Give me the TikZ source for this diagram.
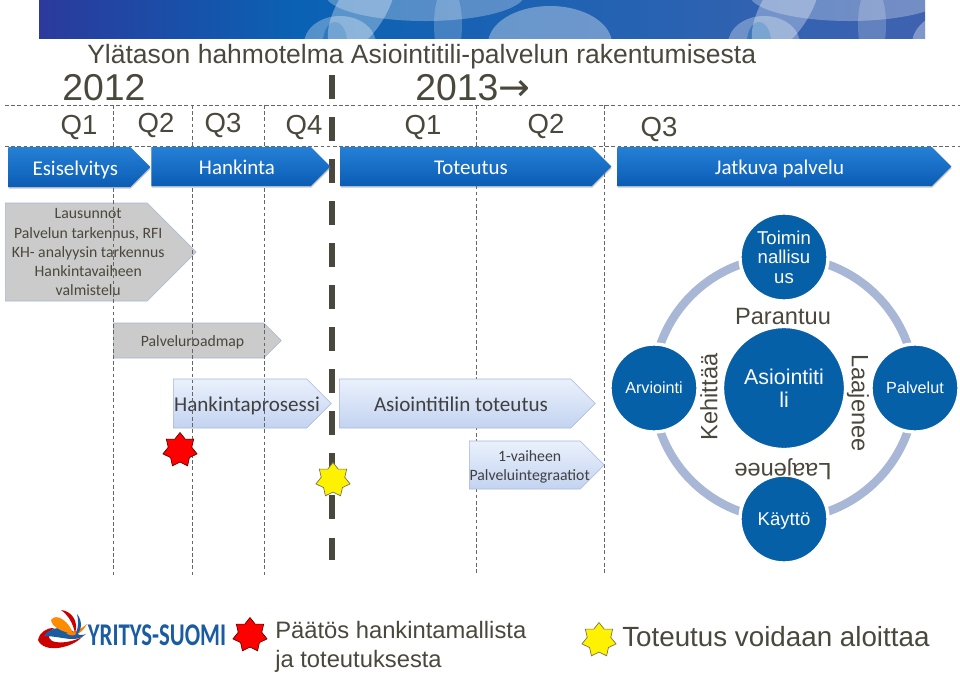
\documentclass[tikz,border=0pt]{standalone}
\usepackage{fontspec}
\setmainfont{Liberation Sans}
\newfontfamily\carlito{Carlito}
\newfontfamily\dejavu{DejaVu Sans}
\usetikzlibrary{shapes.geometric, shapes.symbols, shadows}
\definecolor{inktext}{HTML}{4A483C}
\definecolor{barblue}{HTML}{0B5CB4}
\definecolor{barlight}{HTML}{2580D6}
\definecolor{discblue}{HTML}{0560A8}
\definecolor{ringblue}{HTML}{A9B7D6}
\definecolor{greybox}{HTML}{CBCBCB}
\definecolor{paleedge}{HTML}{A8B8D8}
\definecolor{paletop}{HTML}{EAF1FC}
\definecolor{palebottom}{HTML}{C3D3F0}
\definecolor{logoblue}{HTML}{1A5CA2}
\definecolor{bannerleft}{HTML}{2B3A9C}
\definecolor{bannermid}{HTML}{0A62B4}
\definecolor{bannerright}{HTML}{3F62B0}
\tikzset{
    headline/.style = {text=inktext, inner sep=0pt, font=\fontsize{18.85}{22}\selectfont},
    yearlabel/.style = {text=inktext, inner sep=0pt, font=\fontsize{26.6}{30}\selectfont},
    quarter/.style = {text=inktext, inner sep=0pt, font=\fontsize{19.6}{24}\selectfont},
    phase/.style = {signal, signal to=east, anchor=west, inner sep=0pt, draw=none, top color=barlight, bottom color=barblue, text=white, text height=12pt, text depth=0pt, font=\carlito\fontsize{14.9}{17}\selectfont, drop shadow={shadow xshift=0.3pt, shadow yshift=-1.2pt, opacity=0.45}},
    greytask/.style = {signal, signal to=east, anchor=west, inner sep=0pt, fill=greybox, draw=paleedge, text=inktext, font=\carlito\fontsize{11.2}{13.6}\selectfont},
    paletask/.style = {signal, signal to=east, anchor=west, inner sep=0pt, top color=paletop, bottom color=palebottom, draw=paleedge, text=black!75, font=\carlito\fontsize{15}{18}\selectfont},
    oneline/.style = {text height=11pt, text depth=0pt},
    disc/.style = {circle, fill=discblue, draw=white, line width=2.4pt, inner sep=0pt, text=white, align=center},
    smalldisc/.style = {disc, minimum size=88\pxu, font=\fontsize{11.5}{13.8}\selectfont},
    ringlabel/.style = {text=inktext, inner sep=0pt, font=\fontsize{16.8}{18}\selectfont},
    gridline/.style = {dash pattern=on 2.6pt off 1.8pt, draw=black!60, line width=0.55pt},
    milestone/.style = {draw=inktext, line width=4.2pt, dash pattern=on 17pt off 12.9pt},
    burst/.style = {star, star points=7, star point ratio=1.45, minimum size=35\pxu, inner sep=0pt, draw=black!60!#1, fill=#1, line width=0.5pt},
    legendtext/.style = {text=inktext, inner sep=0pt, align=left, anchor=west}
}
\newcommand{\pxu}{*0.025cm}
\newcommand{\shifted}[2]{\hspace*{#1}\makebox[0pt]{#2}}
\newcommand{\lowered}[2]{\raisebox{-#1}[\height][\depth]{#2}}
\begin{document}
\begin{tikzpicture}[x=0.025cm, y=-0.025cm]
    \useasboundingbox (0,0) rectangle (960,673);

    % banner
    \begin{scope}
        \clip (39,0) rectangle (925,38);
        \shade [left color=bannerleft, right color=bannermid] (39,0) rectangle (300,38);
        \shade [left color=bannermid, right color=bannerright] (300,0) rectangle (925,38);
        \foreach \dx in {0, 424} {
            \fill [white, opacity=0.3] (340+\dx,44) ellipse (36 and 28);
            \fill [bannermid, opacity=0.5] (335+\dx,42) ellipse (12 and 20);
            \fill [white, opacity=0.32] (362+\dx,8) [rotate around={-32:(362+\dx,8)}] ellipse (24 and 52);
            \fill [white, opacity=0.28] (425+\dx,-6) ellipse (100 and 27);
            \fill [white, opacity=0.2] (448+\dx,25) ellipse (14 and 40);
            \fill [white, opacity=0.34] (550+\dx,44) ellipse (62 and 38);
        }
    \end{scope}

    \node (title) [headline, anchor=west] at (87,56.5) {Ylätason hahmotelma Asiointitili-palvelun rakentumisesta};
    \node (y2012) [yearlabel, anchor=west] at (62,88) {2012};
    \node (y2013) [yearlabel, anchor=west] at (415,88) {2013{\dejavu\fontsize{27}{30}\selectfont →}};

    \node (q1a) [quarter] at (79,127) {Q1};
    \node (q2a) [quarter] at (156,125) {Q2};
    \node (q3a) [quarter] at (223,125) {Q3};
    \node (q4a) [quarter] at (304,127) {Q4};
    \node (q1b) [quarter] at (423,127) {Q1};
    \node (q2b) [quarter] at (546,126) {Q2};
    \node (q3b) [quarter] at (659,129) {Q3};

    \draw [gridline] (5,105) -- (960,105);
    \draw [gridline] (5,146) -- (960,146);
    \foreach \gx in {476, 604}
        \draw [gridline] (\gx,105) -- (\gx,575);
    \draw [milestone] (332,75) -- (332,560);

    \node (esiselvitys) [phase, minimum width=142\pxu, minimum height=40\pxu] at (8,167) {\shifted{8.5pt}{Esiselvitys}};
    \node (hankinta) [phase, minimum width=179\pxu, minimum height=39\pxu] at (151,166.5) {\shifted{8.5pt}{Hankinta}};
    \node (toteutus) [phase, minimum width=271\pxu, minimum height=39\pxu] at (340,166.5) {\shifted{7pt}{Toteutus}};
    \node (jatkuva) [phase, minimum width=334\pxu, minimum height=39\pxu] at (617,166.5) {\shifted{7pt}{Jatkuva palvelu}};

    \node (lausunnot) [greytask, minimum width=191\pxu, minimum height=98\pxu] at (5,252) {\shifted{17pt}{\lowered{1pt}{\begin{tabular}{@{}c@{}}Lausunnot\\Palvelun tarkennus, RFI\\KH- analyysin tarkennus\\Hankintavaiheen\\valmistelu\end{tabular}}}};
    \node (roadmap) [greytask, minimum width=168\pxu, minimum height=35\pxu] at (113,340.5) {\shifted{5.7pt}{\lowered{1.2pt}{Palveluroadmap}}};
    \node (prosessi) [paletask, oneline, minimum width=158\pxu, minimum height=49\pxu] at (173,403.5) {\shifted{10pt}{Hankintaprosessi}};
    \node (toteutustask) [paletask, oneline, minimum width=256\pxu, minimum height=49\pxu] at (339,403.5) {\shifted{8.5pt}{Asiointitilin toteutus}};
    \node (integraatiot) [paletask, minimum width=135\pxu, minimum height=48\pxu, font=\carlito\fontsize{11.2}{13.6}\selectfont] at (469,465) {\shifted{7pt}{\lowered{1.4pt}{\begin{tabular}{@{}c@{}}1-vaiheen\\Palveluintegraatiot\end{tabular}}}};

    \foreach \gx in {113.5, 192.5, 264.5}
        \draw [gridline] (\gx,188) -- (\gx,575);
    \foreach \gx in {113.5, 192.5, 264.5}
        \draw [gridline] (\gx,105) -- (\gx,146);

    \node (redstar) [burst=red] at (180,450) {};
    \node (yellowstar) [burst=yellow] at (333,480) {};

    % kehä
    \draw [ringblue, line width=6pt] (784,388) circle (131);
    \node (asiointi) [disc, minimum size=123\pxu, font=\fontsize{15.2}{16}\selectfont] at (784,388) {Asiointiti\\li};
    \node (toiminta) [smalldisc, font=\fontsize{13.2}{13.8}\selectfont] at (784,257) {Toimin\\nallisu\\us};
    \node (palvelut) [smalldisc] at (915,388) {Palvelut};
    \node (kaytto) [smalldisc, font=\fontsize{13.2}{16}\selectfont] at (784,519) {\lowered{1.2pt}{Käyttö}};
    \node (arviointi) [smalldisc] at (654,388) {Arviointi};
    \node (parantuu) [ringlabel] at (783,316) {Parantuu};
    \node (kehittaa) [ringlabel, rotate=90] at (709,397) {Kehittää};
    \node (laajeneeR) [ringlabel, rotate=-90] at (858,403) {Laajenee};
    \node (laajeneeB) [ringlabel, rotate=180] at (783,470) {Laajenee};

    % logo
    \fill [red!80!black] (38,640) .. controls (40,632) and (46,628) .. (54,628) .. controls (48,632) and (47,638) .. (52,641) .. controls (60,644) and (72,642) .. (82,637) .. controls (72,648) and (44,654) .. (38,640);
    \fill [logoblue] (44,636) .. controls (50,626) and (66,626) .. (74,632) .. controls (78,635) and (82,636) .. (86,634) .. controls (76,644) and (62,636) .. (44,636);
    \fill [orange!90!yellow] (51,620) .. controls (56,612) and (70,622) .. (73,634) .. controls (64,632) and (52,628) .. (51,620);
    \fill [orange] (66,633) .. controls (72,633) and (80,630) .. (87,624) .. controls (81,635) and (72,638) .. (66,633);
    \fill [red!80!black] (61,610) .. controls (72,611) and (79,622) .. (75,633) .. controls (73,623) and (68,615) .. (61,610);
    \fill [logoblue] (77,614) .. controls (83,621) and (82,632) .. (75,636) .. controls (78,630) and (79,622) .. (77,614);
    \node (logo) [inner sep=0pt, text=logoblue, font=\carlito\bfseries\fontsize{22.5}{26}\selectfont] at (157,635) {\scalebox{.72}[1]{YRITYS-SUOMI}};

    \node (legendred) [burst=red] at (250,635) {};
    \node (legendyellow) [burst=yellow] at (599,640) {};
    \node (paatos) [legendtext, font=\fontsize{16.9}{20.6}\selectfont] at (275,647) {Päätös hankintamallista\\ja toteutuksesta};
    \node (aloittaa) [legendtext, font=\fontsize{19.75}{24}\selectfont] at (622,637) {Toteutus voidaan aloittaa};
\end{tikzpicture}
\end{document}
